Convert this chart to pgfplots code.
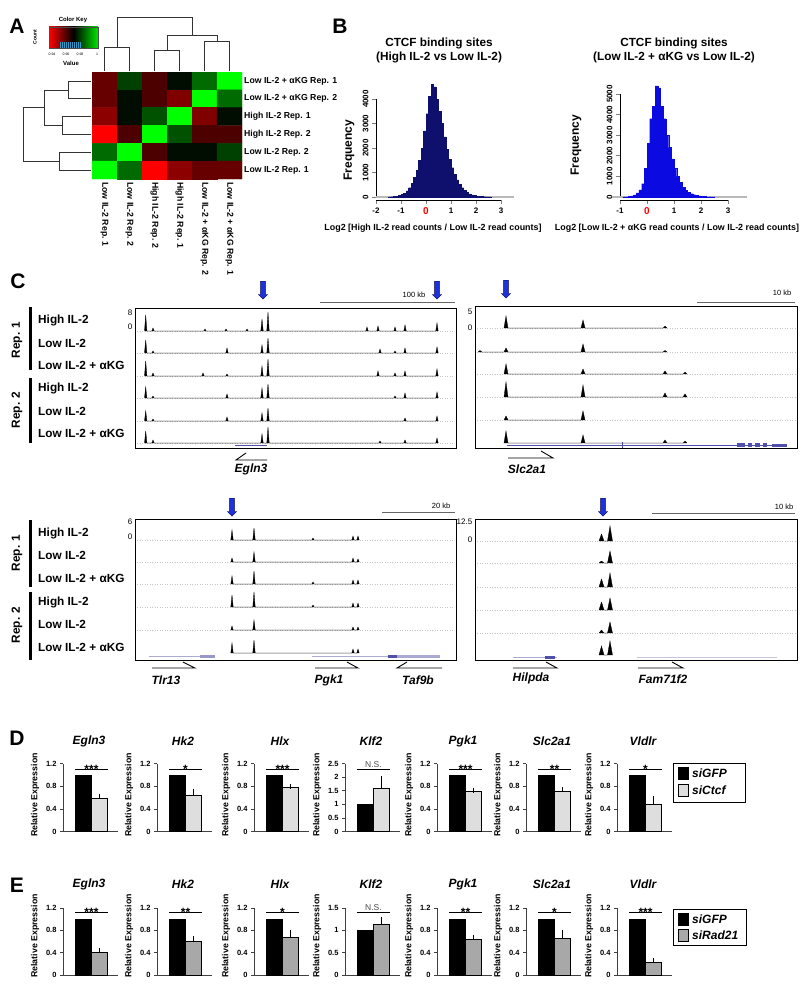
\documentclass[border=0pt]{standalone}
\usepackage{pgfplots}
\pgfplotsset{compat=1.18}
\usepackage{fontspec}
\setmainfont{Liberation Sans}
\usetikzlibrary{shapes.arrows}
\definecolor{navyh}{RGB}{15,15,110}
\definecolor{blueh}{RGB}{10,10,225}
\definecolor{lgray}{RGB}{222,222,222}
\definecolor{mgray}{RGB}{168,168,168}
\definecolor{genec}{RGB}{80,80,170}
\definecolor{genel}{RGB}{170,170,210}
\definecolor{arrowb}{RGB}{30,50,220}
\newcommand{\fs}[1]{\fontsize{#1}{#1}\selectfont}
\pgfplotsset{/pgf/number format/assume math mode=true}
\def\barh{68}
\pgfplotsset{
 trackax/.style={scale only axis, anchor=north west, xtick=\empty, ytick=\empty, y dir=reverse, axis line style={line width=1pt}, clip=true},
 baraxis/.style={scale only axis, anchor=south west, width=55pt, height=\barh pt, xmin=0, xmax=55, ymin=0,
   axis lines=left, axis line style={-, black!75, line width=0.6pt}, xtick=\empty, tick align=outside,
   major tick length=3pt, tick style={black!75, line width=0.6pt}, yticklabel style={font=\fs{7.5}\bfseries},
   clip=false, scaled y ticks=false},
 spk/.style={fill=black, draw=black, line width=0.3pt},
 bl/.style={gray!45, line width=0.5pt, dash pattern=on 1pt off 1.5pt},
 histax/.style={scale only axis, anchor=south west, axis lines=left, axis line style={-, line width=0.8pt},
   tick align=outside, major tick length=4pt, tick style={line width=0.8pt}, axis x line shift=3pt,
   tick label style={font=\fs{8}\bfseries}, yticklabel style={rotate=90, anchor=south},
   scaled y ticks=false, clip=false, ymin=0}
}
\newcommand{\NS}{\raisebox{6pt}{\fs{8.5}\mdseries\color{black!70}N.S.}}
\newcommand{\barax}[9]{%
\begin{axis}[baraxis, at={(#1pt,-#2pt)}, ymax=#3, ytick={#4}]
\addplot[ybar, bar shift=0pt, bar width=16, fill=black, draw=black, line width=0.4pt] coordinates {(20.5,1)};
\addplot[ybar, bar shift=0pt, bar width=16, fill=#9, draw=black, line width=0.4pt,
  error bars/.cd, y dir=plus, y explicit, error bar style={black, line width=0.5pt}, error mark options={black, mark size=2.5pt}]
  coordinates {(36.5,#5) +- (0,#6)};
\addplot[black, line width=0.5pt] coordinates {(12,#8) (45,#8)};
\node[anchor=base, font=\fs{12}\bfseries, yshift=-4.5pt, inner sep=0pt] at (axis cs:28.5,#8) {#7};
\end{axis}}

\begin{document}
\begin{tikzpicture}[x=1pt,y=-1pt]
\path[fill=white, use as bounding box] (0,0) rectangle (800,990);

% ---------- canvas axis: dendrograms, gene arrows, scale bars ----------
\begin{axis}[at={(0pt,0pt)}, anchor=north west, scale only axis, width=800pt, height=990pt,
  xmin=0, xmax=800, ymin=0, ymax=990, y dir=reverse, hide axis, clip=false]
% top dendrogram
\addplot[black!80, line width=0.6pt] coordinates {(104.5,71) (104.5,47) (129.5,47) (129.5,71)};
\addplot[black!80, line width=0.6pt] coordinates {(154.5,71) (154.5,50) (179.5,50) (179.5,71)};
\addplot[black!80, line width=0.6pt] coordinates {(204.5,71) (204.5,41) (229.5,41) (229.5,71)};
\addplot[black!80, line width=0.6pt] coordinates {(167,50) (167,35) (217,35) (217,41)};
\addplot[black!80, line width=0.6pt] coordinates {(117,47) (117,17) (192,17) (192,35)};
% left dendrogram
\addplot[black!80, line width=0.6pt] coordinates {(91,80.9) (68,80.9) (68,98.7) (91,98.7)};
\addplot[black!80, line width=0.6pt] coordinates {(91,116.5) (62,116.5) (62,134.3) (91,134.3)};
\addplot[black!80, line width=0.6pt] coordinates {(68,89.8) (44,89.8) (44,125.4) (62,125.4)};
\addplot[black!80, line width=0.6pt] coordinates {(91,152.1) (59,152.1) (59,169.9) (91,169.9)};
\addplot[black!80, line width=0.6pt] coordinates {(44,107.6) (23,107.6) (23,161) (59,161)};
% scale bars
\addplot[black!60, line width=0.5pt] coordinates {(320,302) (455,302)};
\addplot[black!60, line width=0.5pt] coordinates {(697,302) (795,302)};
\addplot[black!60, line width=0.5pt] coordinates {(382,512) (455,512)};
\addplot[black!60, line width=0.5pt] coordinates {(652,513) (795,513)};
% gene arrows
\addplot[black, line width=0.9pt] coordinates {(246,453) (236,460) (267,460)};
\addplot[black, line width=0.9pt] coordinates {(508,458) (553,458) (541,451)};
\addplot[black, line width=0.9pt] coordinates {(152,668) (195,668) (183,662)};
\addplot[black, line width=0.9pt] coordinates {(315,668) (358,668) (347,662)};
\addplot[black, line width=0.9pt] coordinates {(407,662) (397,668) (442,668)};
\addplot[black, line width=0.9pt] coordinates {(513,668) (557,668) (546,662)};
\addplot[black, line width=0.9pt] coordinates {(638,668) (683,668) (672,662)};
\end{axis}

% ---------- Panel A ----------
\node[font=\fs{21}\bfseries] at (17,26) {A};
\shade[left color=red, right color=green!90!black, middle color=black] (49,27) rectangle (98,48);
\foreach \xx in {60,62,64,66,68,70,72,74,76,78,80} {\draw[cyan!80!black, line width=0.4pt] (\xx,48) -- (\xx,42);}
\draw[black!70, line width=0.3pt] (49,27) rectangle (98,48);
\node[font=\fs{6}\bfseries] at (73,20) {Color Key};
\node[font=\fs{5}\bfseries, rotate=90] at (35,37) {Count};
\foreach \xx/\tt in {52/0.94,66/0.96,80/0.98,97/1} {\node[font=\fs{3.5}] at (\xx,54) {\tt};}
\node[font=\fs{6}\bfseries] at (71,63) {Value};

\begin{axis}[at={(92pt,-72pt)}, anchor=north west, scale only axis, width=150pt, height=107pt,
  xmin=-0.5, xmax=5.5, ymin=-0.5, ymax=5.5, y dir=reverse, hide axis, enlargelimits=false,
  colormap={rg}{rgb255=(255,0,0) rgb255=(0,0,0) rgb255=(0,255,0)}, point meta min=-1, point meta max=1]
\addplot[matrix plot*, mesh/cols=6, point meta=explicit] coordinates {
(0,0) [-0.4] (1,0) [0.25] (2,0) [-0.3] (3,0) [0.05] (4,0) [0.42] (5,0) [1]
(0,1) [-0.4] (1,1) [0.05] (2,1) [-0.3] (3,1) [-0.5] (4,1) [1] (5,1) [0.42]
(0,2) [-0.55] (1,2) [0.05] (2,2) [0.32] (3,2) [1] (4,2) [-0.5] (5,2) [0.05]
(0,3) [-1] (1,3) [-0.3] (2,3) [1] (3,3) [0.32] (4,3) [-0.3] (5,3) [-0.3]
(0,4) [0.42] (1,4) [1] (2,4) [-0.3] (3,4) [0.05] (4,4) [0.05] (5,4) [0.25]
(0,5) [1] (1,5) [0.42] (2,5) [-1] (3,5) [-0.55] (4,5) [-0.4] (5,5) [-0.4]
};
\end{axis}
\foreach \yy/\tt in {80.9/{Low IL-2 + αKG Rep. 1},98.7/{Low IL-2 + αKG Rep. 2},116.5/{High IL-2 Rep. 1},134.3/{High IL-2 Rep. 2},152.1/{Low IL-2 Rep. 2},169.9/{Low IL-2 Rep. 1}}
  {\node[anchor=west, font=\fs{8.7}\bfseries, inner sep=1pt] at (243,\yy) {\tt};}
\foreach \xx/\tt in {104.5/{Low IL-2 Rep. 1},129.5/{Low IL-2 Rep. 2},154.5/{High IL-2 Rep. 2},179.5/{High IL-2 Rep. 1},204.5/{Low IL-2 + αKG Rep. 2},229.5/{Low IL-2 + αKG Rep. 1}}
  {\node[anchor=west, rotate=-90, font=\fs{8.7}\bfseries, inner sep=1pt] at (\xx,181) {\tt};}

% ---------- Panel B ----------
\node[font=\fs{21}\bfseries] at (340,26) {B};
\node[font=\fontsize{11.8}{14}\selectfont\bfseries, align=center] at (439,50) {CTCF binding sites\\(High IL-2 vs Low IL-2)};
\node[font=\fontsize{11.8}{14}\selectfont\bfseries, align=center] at (674,50) {CTCF binding sites\\(Low IL-2 + αKG vs Low IL-2)};
\node[font=\fs{12}\bfseries, rotate=90] at (349,150) {Frequency};
\node[font=\fs{12}\bfseries, rotate=90] at (576,145) {Frequency};
\node[font=\fs{8.9}\bfseries] at (433,228) {Log2 [High IL-2 read counts / Low IL-2 read counts]};
\node[font=\fs{8.9}\bfseries] at (677,228) {Log2 [Low IL-2 + αKG read counts / Low IL-2 read counts]};

\begin{axis}[histax, at={(376pt,-197pt)}, width=125pt, height=98pt, xmin=-2, xmax=3, ymax=4000,
  xtick={-2,-1,0,1,2,3}, xticklabels={-2,-1,{\textcolor{red}{\fs{10}0}},1,2,3},
  ytick={0,1000,2000,3000,4000}, yticklabels={0,1000,2000,3000,4000}]
\addplot[gray!55, line width=1.2pt] coordinates {(-2,0) (3.5,0)};
\addplot[ybar interval, fill=navyh, draw=navyh, line width=0.2pt] coordinates {
(-1.5,8)(-1.4,15)(-1.3,25)(-1.2,40)(-1.1,65)(-1.0,100)(-0.9,160)(-0.8,250)(-0.7,380)(-0.6,560)
(-0.5,800)(-0.4,1100)(-0.3,1500)(-0.2,2000)(-0.1,2700)(0.0,3400)(0.1,4100)(0.2,4600)(0.3,4500)(0.4,4000)
(0.5,3500)(0.6,3000)(0.7,2450)(0.8,1950)(0.9,1550)(1.0,1200)(1.1,920)(1.2,700)(1.3,520)(1.4,380)
(1.5,270)(1.6,190)(1.7,130)(1.8,90)(1.9,60)(2.0,40)(2.1,27)(2.2,18)(2.3,12)(2.4,8)(2.5,5)(2.6,0)};
\end{axis}

\begin{axis}[histax, at={(620pt,-197pt)}, width=108pt, height=103pt, xmin=-1, xmax=3, ymax=5000,
  xtick={-1,0,1,2,3}, xticklabels={-1,{\textcolor{red}{\fs{10}0}},1,2,3},
  ytick={0,1000,2000,3000,4000,5000}, yticklabels={0,1000,2000,3000,4000,5000}]
\addplot[gray!55, line width=1.2pt] coordinates {(-1.3,0) (3.7,0)};
\addplot[ybar interval, fill=blueh, draw=blueh, line width=0.2pt] coordinates {
(-0.9,5)(-0.8,10)(-0.7,25)(-0.6,50)(-0.5,100)(-0.4,200)(-0.3,350)(-0.2,650)(-0.1,1400)(0.0,2600)
(0.1,3800)(0.2,4400)(0.3,5400)(0.4,5300)(0.5,4400)(0.6,3800)(0.7,3000)(0.8,2400)(0.9,1850)(1.0,1400)
(1.1,1000)(1.2,700)(1.3,480)(1.4,330)(1.5,230)(1.6,160)(1.7,110)(1.8,75)(1.9,50)(2.0,32)
(2.1,20)(2.2,12)(2.3,8)(2.4,5)(2.5,0)};
\end{axis}

% ---------- Panel C ----------
\node[font=\fs{21}\bfseries] at (18,281) {C};
\foreach \ya/\yb in {307/370,378/443,520/587,592/660} {\draw[line width=3pt] (30,\ya) -- (30,\yb);}
\foreach \yy/\tt in {340/{Rep. 1},410/{Rep. 2},553/{Rep. 1},625/{Rep. 2}} {\node[rotate=90, font=\fs{11.8}\bfseries] at (17,\yy) {\tt};}
\foreach \yy/\tt in {320/{High IL-2},343/{Low IL-2},365/{Low IL-2 + αKG},388/{High IL-2},411/{Low IL-2},433/{Low IL-2 + αKG},
  533/{High IL-2},555/{Low IL-2},578/{Low IL-2 + αKG},602/{High IL-2},624/{Low IL-2},647/{Low IL-2 + αKG}}
  {\node[anchor=west, font=\fs{11.8}\bfseries, inner sep=0pt] at (38,\yy) {\tt};}
% scale numbers
\foreach \xx/\yy/\tt in {133/313/8,133/327/0,473/312/5,473/328/0,133/522/6,133/537/0,473/522/12.5,473/540/0}
  {\node[anchor=east, font=\fs{8}, inner sep=0.5pt] at (\xx,\yy) {\tt};}
\node[font=\fs{7.5}] at (414,295) {100 kb};
\node[font=\fs{7.5}] at (782,293) {10 kb};
\node[font=\fs{7.5}] at (441,506) {20 kb};
\node[font=\fs{7.5}] at (784,507) {10 kb};
% blue arrows
\foreach \xx/\yy in {263/289,437/289,506/288,232/506,603/506}
  {\node[single arrow, fill=arrowb, draw=blue!30!black, line width=0.4pt, rotate=-90, minimum height=18pt,
     single arrow head extend=2.3pt, inner sep=2.2pt] at (\xx,\yy) {};}
% gene names
\foreach \xx/\yy/\tt in {251/469/Egln3,527/469/Slc2a1,166/680/Tlr13,329/680/Pgk1,418/680/Taf9b,531/678/Hilpda,663/679/Fam71f2}
  {\node[font=\fs{12}\bfseries\itshape] at (\xx,\yy) {\tt};}

% Track box 1 (Egln3)
\begin{axis}[trackax, at={(135pt,-308pt)}, width=321pt, height=140pt, xmin=135, xmax=456, ymin=308, ymax=448]
\addplot[bl] coordinates {(137,331) (454,331)};
\addplot[bl] coordinates {(137,353) (454,353)};
\addplot[bl] coordinates {(137,376) (454,376)};
\addplot[bl] coordinates {(137,398) (454,398)};
\addplot[bl] coordinates {(137,421) (454,421)};
\addplot[bl] coordinates {(137,443) (454,443)};
\addplot[genec, line width=1pt] coordinates {(235,445) (267,445)};
\addplot[spk] coordinates {(144.5,331)(145.7,315)(146.9,331)(151.8,331)(153,328)(154.2,331)(203.8,331)(205,329)(206.2,331)(224.8,331)(226,329)(227.2,331)(245.8,331)(247,329)(248.2,331)(260.8,331)(262,319)(263.2,331)(266.8,331)(268,312)(269.2,331)(365.8,331)(367,327)(368.2,331)(376.8,331)(378,326)(379.2,331)(393.8,331)(395,327)(396.2,331)(403.8,331)(405,325)(406.2,331)(435.8,331)(437,323)(438.2,331)};
\addplot[spk] coordinates {(144.5,353)(145.7,340)(146.9,353)(151.8,353)(153,351)(154.2,353)(225.8,353)(227,348)(228.2,353)(260.8,353)(262,345)(263.2,353)(266.8,353)(268,338)(269.2,353)(378.8,353)(380,349)(381.2,353)(393.8,353)(395,351)(396.2,353)(403.8,353)(405,348)(406.2,353)(435.8,353)(437,347)(438.2,353)};
\addplot[spk] coordinates {(144.5,376)(145.7,361)(146.9,376)(151.8,376)(153,373)(154.2,376)(201.8,376)(203,373)(204.2,376)(225.8,376)(227,374)(228.2,376)(260.8,376)(262,366)(263.2,376)(266.8,376)(268,359)(269.2,376)(376.8,376)(378,371)(379.2,376)(393.8,376)(395,373)(396.2,376)(403.8,376)(405,371)(406.2,376)(435.8,376)(437,369)(438.2,376)};
\addplot[spk] coordinates {(144.5,398)(145.7,387)(146.9,398)(151.8,398)(153,396)(154.2,398)(225.8,398)(227,394)(228.2,398)(260.8,398)(262,388)(263.2,398)(266.8,398)(268,384)(269.2,398)(393.8,398)(395,396)(396.2,398)(403.8,398)(405,393)(406.2,398)(435.8,398)(437,392)(438.2,398)};
\addplot[spk] coordinates {(144.5,421)(145.7,411)(146.9,421)(151.8,421)(153,419)(154.2,421)(225.8,421)(227,417)(228.2,421)(260.8,421)(262,413)(263.2,421)(266.8,421)(268,408)(269.2,421)(403.8,421)(405,418)(406.2,421)(435.8,421)(437,416)(438.2,421)};
\addplot[spk] coordinates {(144.5,443)(145.7,431)(146.9,443)(151.8,443)(153,440)(154.2,443)(260.8,443)(262,434)(263.2,443)(266.8,443)(268,427)(269.2,443)(378.8,443)(380,441)(381.2,443)(403.8,443)(405,440)(406.2,443)(435.8,443)(437,438)(438.2,443)};
\end{axis}

% Track box 2 (Slc2a1)
\begin{axis}[trackax, at={(475pt,-306pt)}, width=322pt, height=142pt, xmin=475, xmax=797, ymin=306, ymax=448]
\addplot[bl] coordinates {(477,328) (795,328)};
\addplot[bl] coordinates {(477,352) (795,352)};
\addplot[bl] coordinates {(477,374) (795,374)};
\addplot[bl] coordinates {(477,397) (795,397)};
\addplot[bl] coordinates {(477,420) (795,420)};
\addplot[genec, line width=0.6pt] coordinates {(507,445) (787,445)};
\addplot[genec, line width=0.8pt] coordinates {(622,442) (622,448)};
\addplot[genec, line width=4pt] coordinates {(737,445) (745,445)};
\addplot[genec, line width=4pt] coordinates {(748,445) (752,445)};
\addplot[genec, line width=4pt] coordinates {(755,445) (760,445)};
\addplot[genec, line width=4pt] coordinates {(763,445) (767,445)};
\addplot[genec, line width=3pt] coordinates {(772,445) (787,445)};
\addplot[spk] coordinates {(504,328)(506,316)(508,328)(581,328)(583,320)(585,328)(663,328)(665,326)(667,328)};
\addplot[spk] coordinates {(478,352)(480,350.5)(482,352)(504,352)(506,348)(508,352)(581,352)(583,344)(585,352)(663,352)(665,350.5)(667,352)};
\addplot[spk] coordinates {(504,374)(506,364)(508,374)(581,374)(583,369)(585,374)(663,374)(665,371)(667,374)(683,374)(685,372)(687,374)};
\addplot[spk] coordinates {(504,397)(506,382)(508,397)(581,397)(583,385)(585,397)(663,397)(665,393)(667,397)(683,397)(685,394)(687,397)};
\addplot[spk] coordinates {(504,420)(506,416)(508,420)(581,420)(583,411)(585,420)};
\addplot[spk] coordinates {(504,443)(506,431)(508,443)(581,443)(583,435)(585,443)(663,443)(665,440)(667,443)(683,443)(685,441)(687,443)};
\end{axis}

% Track box 3 (Tlr13 / Pgk1 / Taf9b)
\begin{axis}[trackax, at={(135pt,-519pt)}, width=321pt, height=141pt, xmin=135, xmax=456, ymin=519, ymax=660]
\addplot[bl] coordinates {(137,540) (454,540)};
\addplot[bl] coordinates {(137,562) (454,562)};
\addplot[bl] coordinates {(137,584) (454,584)};
\addplot[bl] coordinates {(137,607) (454,607)};
\addplot[bl] coordinates {(137,630) (454,630)};
\addplot[genel, line width=0.8pt] coordinates {(149,656) (215,656)};
\addplot[genel!80!genec, line width=3pt] coordinates {(200,656) (215,656)};
\addplot[genel, line width=0.8pt] coordinates {(312,656) (440,656)};
\addplot[genel, line width=3pt] coordinates {(388,656) (440,656)};
\addplot[genec, line width=3pt] coordinates {(388,656) (397,656)};
\addplot[spk] coordinates {(230.8,540)(232,530)(233.2,540)(252.8,540)(254,528)(255.2,540)(311.8,540)(313,538)(314.2,540)(351.8,540)(353,536)(354.2,540)(356.8,540)(358,536)(359.2,540)};
\addplot[spk] coordinates {(230.8,562)(232,558)(233.2,562)(252.8,562)(254,552)(255.2,562)(351.8,562)(353,558)(354.2,562)(356.8,562)(358,559)(359.2,562)};
\addplot[spk] coordinates {(230.8,584)(232,576)(233.2,584)(252.8,584)(254,571)(255.2,584)(311.8,584)(313,582)(314.2,584)(351.8,584)(353,580)(354.2,584)(356.8,584)(358,580)(359.2,584)};
\addplot[spk] coordinates {(230.8,607)(232,595)(233.2,607)(252.8,607)(254,592)(255.2,607)(311.8,607)(313,605)(314.2,607)(351.8,607)(353,603)(354.2,607)(356.8,607)(358,603)(359.2,607)};
\addplot[spk] coordinates {(230.8,630)(232,626)(233.2,630)(252.8,630)(254,620)(255.2,630)(351.8,630)(353,627)(354.2,630)(356.8,630)(358,627)(359.2,630)};
\addplot[spk] coordinates {(230.8,653)(232,643)(233.2,653)(252.8,653)(254,640)(255.2,653)(351.8,653)(353,649)(354.2,653)(356.8,653)(358,649)(359.2,653)};
\end{axis}

% Track box 4 (Hilpda / Fam71f2)
\begin{axis}[trackax, at={(475pt,-519pt)}, width=322pt, height=141pt, xmin=475, xmax=797, ymin=519, ymax=660]
\addplot[bl] coordinates {(477,541) (795,541)};
\addplot[bl] coordinates {(477,563) (795,563)};
\addplot[bl] coordinates {(477,587) (795,587)};
\addplot[bl] coordinates {(477,610) (795,610)};
\addplot[bl] coordinates {(477,633) (795,633)};
\addplot[genel, line width=0.8pt] coordinates {(513,657) (557,657)};
\addplot[genec, line width=3pt] coordinates {(545,657) (555,657)};
\addplot[genel!70, line width=0.8pt] coordinates {(637,657) (777,657)};
\addplot[spk] coordinates {(599,541)(601.5,534)(604,541)(607.5,541)(610,526)(612.5,541)};
\addplot[spk] coordinates {(599,563)(601.5,561)(604,563)(607.5,563)(610,551)(612.5,563)};
\addplot[spk] coordinates {(599,587)(601.5,579)(604,587)(607.5,587)(610,573)(612.5,587)};
\addplot[spk] coordinates {(599,610)(601.5,602)(604,610)(607.5,610)(610,598)(612.5,610)};
\addplot[spk] coordinates {(599,633)(601.5,630)(604,633)(607.5,633)(610,622)(612.5,633)};
\addplot[spk] coordinates {(599,655)(601.5,646)(604,655)(607.5,655)(610,641)(612.5,655)};
\end{axis}

% ---------- Panel D / E ----------
\node[font=\fs{21}\bfseries] at (17,738) {D};
\node[font=\fs{21}\bfseries] at (17,885) {E};
\foreach \X/\G in {63/Egln3,157/Hk2,254/Hlx,345/Klf2,437/Pgk1,526/Slc2a1,617/Vldlr} {
  \node[font=\fs{12}\bfseries\itshape] at (\X+26,741) {\G};
  \node[font=\fs{12}\bfseries\itshape] at (\X+26,884) {\G};
  \node[rotate=90, font=\fs{8.8}\bfseries] at (\X-28,795) {Relative Expression};
  \node[rotate=90, font=\fs{8.8}\bfseries] at (\X-28,936) {Relative Expression};
}
\def\barh{68}
\barax{63}{831.5}{1.2}{0,0.4,0.8,1.2}{0.58}{0.04}{***}{1.1}{lgray}
\barax{157}{831.5}{1.2}{0,0.4,0.8,1.2}{0.64}{0.07}{*}{1.1}{lgray}
\barax{254}{831.5}{1.2}{0,0.4,0.8,1.2}{0.79}{0.01}{***}{1.1}{lgray}
\barax{345}{831.5}{2.5}{0,0.5,1,1.5,2,2.5}{1.6}{0.35}{\NS}{2.3}{lgray}
\barax{437}{831.5}{1.2}{0,0.4,0.8,1.2}{0.72}{0.01}{***}{1.1}{lgray}
\barax{526}{831.5}{1.2}{0,0.4,0.8,1.2}{0.71}{0.03}{**}{1.1}{lgray}
\barax{617}{831.5}{1.2}{0,0.4,0.8,1.2}{0.48}{0.11}{*}{1.1}{lgray}
\def\barh{67}
\barax{63}{975}{1.2}{0,0.4,0.8,1.2}{0.41}{0.03}{***}{1.12}{mgray}
\barax{157}{975}{1.2}{0,0.4,0.8,1.2}{0.60}{0.05}{**}{1.12}{mgray}
\barax{254}{975}{1.2}{0,0.4,0.8,1.2}{0.67}{0.10}{*}{1.12}{mgray}
\barax{345}{975}{1.5}{0,0.5,1,1.5}{1.13}{0.12}{\NS}{1.4}{mgray}
\barax{437}{975}{1.2}{0,0.4,0.8,1.2}{0.65}{0.03}{**}{1.12}{mgray}
\barax{526}{975}{1.2}{0,0.4,0.8,1.2}{0.66}{0.10}{*}{1.12}{mgray}
\barax{617}{975}{1.2}{0,0.4,0.8,1.2}{0.23}{0.03}{***}{1.12}{mgray}

% legends
\draw[line width=1pt] (673,763) rectangle (745,802);
\draw[fill=black] (678,767) rectangle (688,779);
\draw[fill=lgray, line width=0.6pt] (678,784) rectangle (688,796);
\node[anchor=west, font=\fs{12}\bfseries\itshape, inner sep=0pt] at (692,773) {siGFP};
\node[anchor=west, font=\fs{12}\bfseries\itshape, inner sep=0pt] at (692,790) {siCtcf};
\draw[line width=1pt] (673,909) rectangle (746,945);
\draw[fill=black] (678,913) rectangle (688,925);
\draw[fill=mgray, line width=0.6pt] (678,929) rectangle (688,941);
\node[anchor=west, font=\fs{12}\bfseries\itshape, inner sep=0pt] at (692,919) {siGFP};
\node[anchor=west, font=\fs{12}\bfseries\itshape, inner sep=0pt] at (692,935) {siRad21};
\end{tikzpicture}
\end{document}
